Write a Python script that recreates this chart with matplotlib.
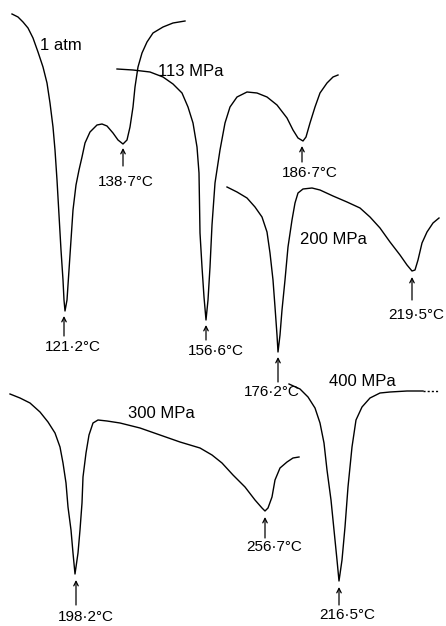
import matplotlib
matplotlib.use("Agg")
from matplotlib import pyplot as plt

# traced thermograms, picture coordinates (x right, y down)
atm1_x = [12, 18, 23, 28, 33, 38, 43, 47, 50, 53, 55, 57, 59, 61, 63, 64, 65, 67, 69, 71, 73, 76, 79,
          82, 85, 90, 97, 102, 107, 113, 118, 123, 127, 130, 133, 135, 138, 142, 147, 153, 163, 173, 185]
atm1_y = [14, 17, 22, 28, 38, 52, 67, 83, 103, 127, 150, 180, 215, 250, 280, 300, 311, 300, 270, 240, 210, 185, 170,
          157, 143, 132, 125, 124, 126, 133, 140, 144, 140, 127, 107, 87, 67, 53, 42, 33, 27, 23, 21]

mpa113_x = [117, 133, 150, 163, 173, 182, 188, 193, 197, 199, 200, 202, 204, 206, 208, 210, 212, 215,
            220, 225, 230, 237, 247, 257, 267, 277, 287, 293, 298, 303, 306, 310, 315, 320, 327, 333, 338]
mpa113_y = [69, 70, 72, 77, 84, 93, 107, 123, 147, 173, 233, 267, 297, 320, 300, 267, 225, 183,
            150, 123, 107, 97, 92, 93, 97, 105, 118, 130, 138, 141, 137, 123, 107, 93, 83, 77, 75]

mpa200_x = [227, 237, 247, 255, 262, 267, 270, 273, 275, 277, 278, 280, 282, 285, 288, 292, 295, 298,
            303, 312, 320, 333, 347, 360, 370, 380, 390, 400, 407, 412, 415, 418, 422, 427, 433, 439]
mpa200_y = [187, 192, 198, 207, 217, 232, 253, 280, 307, 335, 352, 335, 310, 280, 247, 220, 203, 193,
            189, 188, 190, 196, 202, 208, 217, 228, 242, 255, 265, 271, 270, 260, 243, 232, 223, 218]

mpa300_x = [10, 20, 30, 40, 48, 55, 60, 63, 66, 68, 71, 73, 75, 78, 80, 82, 83, 86, 89, 93, 98, 107,
            120, 140, 160, 180, 200, 212, 222, 233, 245, 255, 262, 265, 268, 272, 275, 280, 287, 293, 299]
mpa300_y = [394, 398, 403, 412, 422, 433, 447, 463, 483, 507, 530, 553, 574, 553, 530, 503, 477, 453, 435, 423, 420, 421,
            423, 428, 435, 442, 448, 455, 463, 475, 487, 500, 508, 511, 508, 497, 480, 468, 462, 458, 457]

mpa400_x = [289, 300, 308, 315, 320, 324, 327, 331, 334, 337, 339, 342, 345, 348, 352, 356, 362,
            370, 380, 390, 407, 423]
mpa400_y = [384, 389, 397, 408, 423, 443, 470, 500, 530, 560, 581, 560, 527, 487, 447, 420, 407,
            398, 393, 392, 391, 391]
tail400_x = [423, 438]
tail400_y = [391, 391]

curve_names = ["1 atm", "113 MPa", "200 MPa", "300 MPa", "400 MPa"]
name_x = [61, 191, 333, 161, 362]
name_y = [46, 71, 240, 413, 382]

peak_labels = ["121·2°C", "138·7°C", "156·6°C", "186·7°C", "176·2°C", "219·5°C",
               "198·2°C", "256·7°C", "216·5°C"]
peak_x = [64, 123, 206, 302, 278, 412, 76, 265, 339]
peak_tip = [316, 148, 325, 146, 357, 277, 580, 517, 587]
peak_tail = [336, 166, 340, 162, 382, 300, 605, 538, 605]
label_x = [73, 126, 216, 310, 272, 416, 86, 274, 347]
label_y = [347, 182, 351, 173, 392, 315, 617, 547, 615]

fig = plt.figure(figsize=(4.46, 6.26), dpi=100, facecolor='white')
ax = fig.add_axes([0, 0, 1, 1])
ax.set_xlim(0, 446)
ax.set_ylim(626, 0)
ax.axis('off')

lw = 1.0
for xs, ys in [(atm1_x, atm1_y), (mpa113_x, mpa113_y), (mpa200_x, mpa200_y),
               (mpa300_x, mpa300_y), (mpa400_x, mpa400_y)]:
    ax.plot(xs, ys, color='black', lw=lw, solid_joinstyle='round')
ax.plot(tail400_x, tail400_y, color='black', lw=lw, ls=(0, (1.5, 1.5)))

for name, x, y in zip(curve_names, name_x, name_y):
    ax.text(x, y, name, fontsize=12, family='Liberation Sans', ha='center', va='center')

for lab, x, tip, tail, lx, ly in zip(peak_labels, peak_x, peak_tip, peak_tail, label_x, label_y):
    ax.annotate('', xy=(x, tip), xytext=(x, tail),
                arrowprops=dict(arrowstyle='->', lw=0.9, color='black',
                                shrinkA=0, shrinkB=0, mutation_scale=8))
    ax.text(lx, ly, lab, fontsize=11, family='Liberation Sans', ha='center', va='center')

fig.savefig('out.png', dpi=100, facecolor='white')
